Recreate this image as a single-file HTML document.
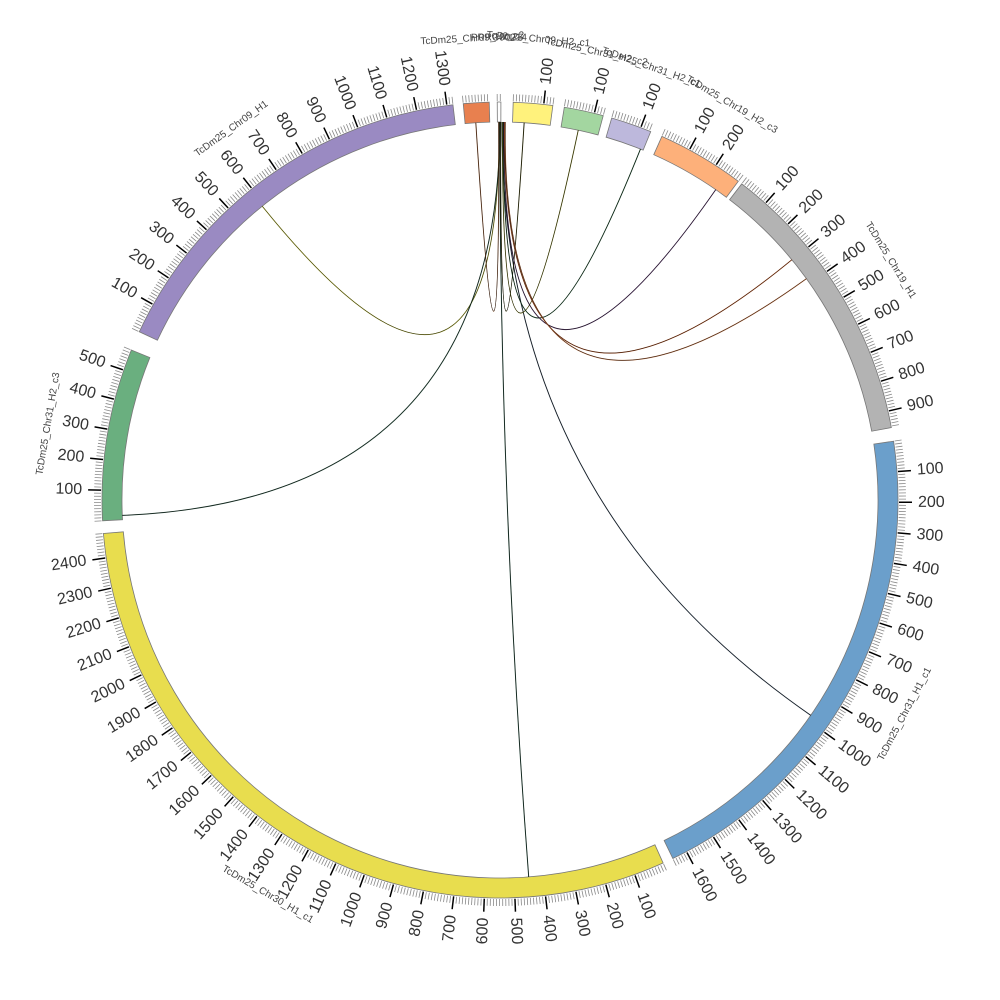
<!DOCTYPE html>
<html><head><meta charset="utf-8">
<style>html,body{margin:0;padding:0;background:#fff;}svg{display:block;}</style>
</head><body>
<svg id="c" width="1000" height="1000" viewBox="0 0 1000 1000" xmlns="http://www.w3.org/2000/svg"></svg>
<script>
const S=document.getElementById('c'),NS='http://www.w3.org/2000/svg';
const CX=500,CY=500,RI=378,RO=398,K=0.0441;
function P(r,t){const a=t*Math.PI/180;return [CX+r*Math.sin(a),CY-r*Math.cos(a)];}
function el(n,at,txt){const e=document.createElementNS(NS,n);for(const k in at)e.setAttribute(k,at[k]);if(txt!=null)e.textContent=txt;S.appendChild(e);return e;}
const segs=[
 {n:"TcDm25_Chr09_H2_c2",s:354.7,l:85,c:"#e8804f",lab:false},
 {n:"PRRC00214",s:359.6,l:12,c:"#ffffff",lab:false},
 {n:"TcDm25_Chr09_H2_c1",s:1.9,l:130,c:"#fff27c",lab:true},
 {n:"TcDm25_Chr31_H2_c2",s:9.3,l:130,c:"#a3d6a0",lab:true},
 {n:"TcDm25_Chr31_H2_c1",s:16.3,l:135,c:"#bdb8dc",lab:true},
 {n:"TcDm25_Chr19_H2_c3",s:24.0,l:290,c:"#fdb07a",lab:true},
 {n:"TcDm25_Chr19_H1",s:37.4,l:955,c:"#b3b3b3",lab:true},
 {n:"TcDm25_Chr31_H1_c1",s:81.5,l:1650,c:"#6b9fcb",lab:true},
 {n:"TcDm25_Chr30_H1_c1",s:155.8,l:2480,c:"#e8dd4e",lab:true},
 {n:"TcDm25_Chr31_H2_c3",s:267.0,l:570,c:"#6aaf7f",lab:true},
 {n:"TcDm25_Chr09_H1",s:295.0,l:1320,c:"#9a8ac2",lab:true}
];
function ang(seg,u){return seg.s+u*K;}
segs.forEach(sg=>{
 const t0=sg.s,t1=sg.s+sg.l*K,big=(t1-t0)>180?1:0;
 const a=P(RO,t0),b=P(RO,t1),c=P(RI,t1),d=P(RI,t0);
 el('path',{d:`M${a}A${RO},${RO} 0 ${big} 1 ${b}L${c}A${RI},${RI} 0 ${big} 0 ${d}Z`,fill:sg.c,stroke:"#777","stroke-width":0.8});
 for(let u=0;u<=sg.l;u+=10){
  const t=ang(sg,u),maj=u%100==0&&u>0;
  const p1=P(RO+1,t),p2=P(RO+(maj?14:8),t);
  el('line',{x1:p1[0],y1:p1[1],x2:p2[0],y2:p2[1],stroke:maj?"#000":"#888","stroke-width":maj?1.5:0.8});
  if(maj&&sg.lab){
   const q=P(418,t);let tt=((t%360)+360)%360;let rot,anc;
   if(tt<180){rot=tt-90;anc="start";}else{rot=tt+90;anc="end";}
   el('text',{x:q[0],y:q[1],transform:`rotate(${rot} ${q[0]} ${q[1]})`,"text-anchor":anc,"dominant-baseline":"central","font-family":"Liberation Sans, sans-serif","font-size":16,fill:"#333"},String(u));
  }
 }
 let mid=((t0+t1)/2+360)%360;const q=P(mid<10||mid>350?462:458,mid);
 let rot=(mid>90&&mid<270)?mid-180:mid;
 el('text',{x:q[0],y:q[1],transform:`rotate(${rot} ${q[0]} ${q[1]})`,"text-anchor":"middle","dominant-baseline":"central","font-family":"Liberation Sans, sans-serif","font-size":10,fill:"#444"},sg.n);
});
const links=[
 [10,590,359.9,"#9a9a20"],[9,15,0.0,"#1a4030"],[7,980,0.3,"#203040"],[8,450,359.95,"#103828"],
 [0,37,359.8,"#8a4a20"],[2,40,0.1,"#333300"],[3,60,0.4,"#707010"],[4,125,0.5,"#104020"],
 [5,245,0.6,"#402050"],[6,298,0.7,"#a04010"],[6,380,0.8,"#b06030"]
];
links.forEach(L=>{
 const a=P(RI,ang(segs[L[0]],L[1])),b=P(RI,L[2]);
 el('path',{d:`M${a}Q${CX},${CY} ${b}`,fill:"none",stroke:L[3],"stroke-width":1.0,opacity:0.9});
 el('path',{d:`M${a}Q${CX},${CY} ${b}`,fill:"none",stroke:"#000","stroke-width":0.4});
});
</script>
</body></html>
